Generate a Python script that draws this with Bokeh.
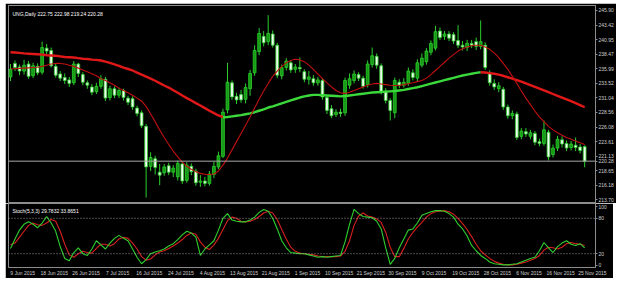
from bokeh.plotting import figure
from bokeh.layouts import column
from bokeh.models import Range1d, FixedTicker, Label, Span, ColumnDataSource
from bokeh.embed import file_html
from bokeh.resources import INLINE

# ---------------- data ----------------
title_main = "UNG,Daily  222.75 222.98 219.24 220.28"
title_stoch = "Stoch(5,3,3) 29.7832 33.8651"

date_labels = ["9 Jun 2015", "18 Jun 2015", "26 Jun 2015", "7 Jul 2015", "16 Jul 2015",
               "24 Jul 2015", "4 Aug 2015", "13 Aug 2015", "21 Aug 2015", "1 Sep 2015",
               "10 Sep 2015", "21 Sep 2015", "30 Sep 2015", "9 Oct 2015", "19 Oct 2015",
               "28 Oct 2015", "6 Nov 2015", "16 Nov 2015", "25 Nov 2015"]
date_label_bars = [0, 7, 14, 21, 28, 35, 42, 49, 56, 63, 70, 77, 84, 91, 98, 105, 112, 119, 126]

price_ticks = [245.90, 243.42, 240.95, 238.47, 235.99, 233.52, 231.04, 228.56,
               226.08, 223.61, 221.13, 218.65, 216.18, 213.70]
stoch_ticks = [0, 20, 80, 100]
stoch_levels = [20, 80]
last_price = 220.28

opens = [234.6, 236.9, 236.3, 235.6, 236.8, 234.8, 236.4, 235.4, 239.5, 239.1,
         236.4, 235.1, 234.5, 234.1, 233.6, 236.8, 235.0, 233.6, 232.9, 232.1,
         233.0, 234.2, 231.1, 232.6, 231.5, 232.3, 231.0, 230.9, 229.3, 228.5,
         226.2, 219.4, 220.7, 218.4, 218.3, 219.5, 218.4, 217.6, 219.8, 217.0,
         219.4, 218.6, 216.7, 216.9, 216.5, 218.0, 219.3, 221.1, 229.0, 233.6,
         231.3, 231.6, 230.8, 232.6, 235.3, 238.9, 241.5, 240.6, 241.9, 240.0,
         234.8, 236.2, 237.0, 235.9, 236.2, 235.5, 234.2, 234.3, 233.6, 234.0,
         231.1, 229.2, 228.2, 228.6, 228.5, 233.2, 234.0, 235.0, 234.4, 233.3,
         236.7, 238.1, 236.5, 232.2, 230.6, 228.5, 233.7, 233.2, 233.5, 235.3,
         234.4, 236.6, 237.2, 238.8, 239.5, 242.4, 241.5, 241.9, 241.8, 240.8,
         240.0, 239.6, 240.3, 240.6, 239.8, 240.0, 235.3, 233.5, 232.6, 232.5,
         229.5, 228.0, 228.3, 224.5, 225.3, 224.5, 225.0, 223.6, 223.3, 225.2,
         221.4, 222.5, 223.9, 223.3, 222.6, 223.0, 222.7, 222.75]
highs = [236.8, 237.4, 236.7, 237.5, 237.3, 237.0, 236.9, 240.6, 240.2, 239.6,
         236.8, 235.6, 235.2, 234.6, 237.3, 237.0, 235.4, 234.0, 233.4, 233.6,
         234.9, 234.6, 233.1, 233.0, 232.8, 232.6, 231.4, 231.3, 229.7, 228.9,
         226.6, 221.8, 221.2, 219.8, 219.8, 220.0, 219.6, 220.4, 220.2, 220.1,
         219.9, 219.0, 217.9, 217.6, 218.6, 220.2, 221.9, 229.2, 237.0, 234.0,
         231.9, 232.4, 233.5, 235.8, 240.0, 242.9, 242.4, 245.1, 242.5, 240.4,
         236.7, 237.8, 237.4, 236.8, 237.9, 235.9, 235.6, 234.9, 234.6, 234.4,
         231.5, 229.8, 229.1, 229.2, 234.5, 235.2, 235.7, 235.4, 234.8, 237.4,
         239.6, 238.6, 236.9, 232.7, 231.0, 234.5, 234.2, 234.4, 236.2, 235.9,
         237.6, 238.6, 239.5, 240.8, 243.3, 243.0, 242.4, 242.4, 242.2, 243.4,
         240.7, 240.9, 240.9, 241.3, 244.2, 240.5, 235.7, 234.2, 233.7, 232.9,
         229.9, 228.9, 228.7, 225.9, 225.9, 225.6, 225.4, 224.1, 227.2, 225.6,
         223.1, 224.6, 224.5, 223.8, 223.7, 224.3, 223.2, 222.98]
lows = [233.9, 235.6, 234.9, 235.0, 234.3, 234.4, 234.9, 235.0, 238.4, 236.2,
        234.5, 233.9, 233.4, 232.9, 233.2, 234.6, 233.2, 232.6, 231.5, 231.7,
        232.6, 230.5, 230.6, 231.0, 231.0, 230.6, 229.8, 229.0, 227.9, 225.9,
        214.1, 218.6, 218.0, 216.2, 217.8, 217.9, 217.6, 217.0, 216.4, 216.6,
        217.9, 216.1, 215.9, 216.0, 216.1, 217.4, 218.9, 220.8, 228.4, 230.7,
        230.0, 230.2, 230.1, 231.4, 234.8, 238.3, 239.8, 240.0, 239.6, 234.4,
        234.2, 235.7, 235.3, 235.3, 235.4, 233.7, 233.3, 233.1, 233.1, 230.7,
        228.3, 227.6, 227.8, 227.8, 228.0, 232.6, 233.5, 233.9, 232.6, 232.8,
        236.2, 236.0, 231.6, 230.1, 227.2, 227.6, 232.7, 232.8, 233.1, 234.0,
        233.9, 236.2, 236.7, 238.3, 239.1, 240.9, 240.9, 240.7, 240.2, 239.5,
        239.1, 239.0, 239.5, 239.2, 239.3, 235.8, 233.1, 232.4, 232.0, 229.0,
        227.5, 227.4, 223.9, 224.0, 224.4, 224.0, 223.0, 222.8, 222.9, 220.4,
        220.9, 222.0, 222.6, 222.0, 222.1, 222.0, 221.6, 219.24]
closes = [235.9, 236.2, 235.6, 236.6, 234.7, 236.5, 235.3, 239.6, 239.0, 236.5,
          234.9, 234.4, 234.0, 233.5, 236.8, 235.2, 233.7, 233.2, 232.0, 233.0,
          234.3, 231.0, 232.6, 231.5, 232.3, 231.1, 230.3, 229.5, 228.4, 226.3,
          219.3, 220.9, 219.2, 217.9, 219.3, 218.4, 219.1, 219.9, 216.9, 219.6,
          218.5, 216.6, 216.9, 216.5, 218.1, 219.4, 221.2, 228.6, 233.7, 231.2,
          230.7, 230.7, 232.8, 235.2, 239.1, 242.0, 240.4, 242.0, 240.0, 234.9,
          236.2, 237.3, 235.8, 236.3, 236.0, 234.2, 234.6, 233.6, 234.1, 231.2,
          228.9, 228.0, 228.6, 228.4, 234.0, 234.3, 235.1, 234.4, 233.0, 236.8,
          238.2, 236.6, 232.0, 230.6, 228.9, 234.0, 233.2, 233.7, 235.6, 234.5,
          237.0, 237.8, 239.0, 240.3, 242.3, 241.3, 241.9, 241.2, 240.7, 240.0,
          239.7, 240.3, 240.0, 239.8, 240.6, 236.2, 233.6, 232.9, 233.1, 229.5,
          228.0, 228.4, 224.3, 225.4, 224.9, 225.1, 223.5, 223.3, 225.6, 221.0,
          222.5, 224.0, 223.2, 222.5, 223.2, 222.6, 222.1, 220.28]

ma_slow = [238.8, 238.75, 238.7, 238.6, 238.55, 238.5, 238.45, 238.4, 238.3, 238.25,
           238.2, 238.1, 238.0, 237.95, 237.9, 237.8, 237.7, 237.65, 237.55, 237.5,
           237.4, 237.2, 237.0, 236.75, 236.5, 236.2, 235.95, 235.7, 235.35, 235.0,
           234.65, 234.3, 233.95, 233.55, 233.15, 232.8, 232.35, 231.9, 231.45, 231.0,
           230.6, 230.15, 229.75, 229.3, 228.85, 228.45, 228.05, 227.75, 227.8, 227.9,
           228.0, 228.1, 228.25, 228.4, 228.6, 228.85, 229.1, 229.4, 229.6, 229.85,
           230.1, 230.35, 230.6, 230.85, 231.1, 231.3, 231.45, 231.55, 231.55, 231.5,
           231.45, 231.4, 231.35, 231.3, 231.35, 231.45, 231.55, 231.65, 231.75, 231.85,
           231.95, 232.0, 232.05, 232.1, 232.15, 232.2, 232.3, 232.4, 232.55, 232.7,
           232.85, 233.05, 233.25, 233.45, 233.65, 233.85, 234.05, 234.25, 234.45, 234.65,
           234.85, 235.0, 235.15, 235.3, 235.4, 235.35, 235.25, 235.15, 235.0, 234.8,
           234.55, 234.3, 234.05, 233.8, 233.5, 233.2, 232.9, 232.6, 232.3, 232.0,
           231.7, 231.4, 231.1, 230.8, 230.5, 230.15, 229.8, 229.45]
ma_fast = [236.0, 236.0, 236.05, 236.1, 236.15, 236.2, 236.25, 236.4, 236.6, 236.8,
           236.9, 236.9, 236.8, 236.6, 236.4, 236.1, 235.8, 235.5, 235.15, 234.8,
           234.3, 234.0, 233.6, 233.2, 232.7, 232.3, 231.9, 231.5, 231.0, 230.5,
           229.6, 228.3, 227.0, 225.6, 224.3, 223.1, 222.0, 221.0, 220.1, 219.4,
           218.9, 218.5, 218.2, 218.05, 218.0, 218.1, 218.6, 219.6, 220.8, 222.2,
           223.6, 225.0, 226.4, 227.8, 229.3, 230.8, 232.2, 233.5, 234.7, 235.6,
           236.4, 237.0, 237.4, 237.6, 237.5, 237.2, 236.6, 235.9, 235.1, 234.3,
           233.6, 232.9, 232.3, 231.9, 231.8, 232.0, 232.3, 232.6, 232.9, 233.2,
           233.4, 233.5, 233.4, 233.3, 233.2, 233.15, 233.2, 233.3, 233.45, 233.6,
           233.8, 234.0, 234.4, 235.0, 235.7, 236.4, 237.1, 237.8, 238.4, 239.0,
           239.4, 239.7, 239.9, 240.0, 240.0, 239.7, 239.3, 238.7, 237.9, 236.9,
           235.9, 234.7, 233.5, 232.2, 231.0, 229.9, 228.8, 227.8, 227.0, 226.2,
           225.6, 225.1, 224.7, 224.3, 224.0, 223.7, 223.4, 223.1]

stoch_k = [29, 45, 60, 70, 74, 70, 64, 72, 83, 72,
           58, 32, 12, 8, 22, 30, 20, 17, 28, 42,
           35, 28, 38, 46, 51, 46, 42, 28, 14, 3,
           10, 20, 23, 25, 28, 33, 37, 44, 52, 58,
           55, 48, 17, 28, 35, 42, 60, 80, 88, 77,
           75, 74, 74, 77, 82, 90, 95, 92, 80, 62,
           42, 30, 22, 21, 20, 20, 18, 16, 14, 15,
           14, 15, 16, 17, 40, 70, 95, 88, 83, 82,
           81, 75, 62, 30, 2, 12, 30, 45, 60, 62,
           72, 85, 88, 91, 93, 93, 92, 88, 82, 70,
           62, 50, 34, 25, 17, 12, 6, 3, 2, 1,
           1, 2, 3, 6, 9, 12, 14, 25, 39, 30,
           22, 32, 38, 42, 36, 34, 37, 29.78]
stoch_d = [35, 38, 48, 58, 68, 72, 69, 68, 72, 78,
           75, 58, 36, 18, 14, 20, 24, 22, 21, 29,
           36, 36, 33, 37, 45, 48, 46, 38, 28, 15,
           9, 11, 18, 23, 25, 29, 33, 38, 44, 51,
           55, 53, 40, 31, 27, 35, 46, 61, 76, 82,
           80, 75, 74, 75, 78, 83, 89, 92, 89, 78,
           61, 45, 31, 24, 21, 20, 19, 18, 16, 15,
           15, 15, 15, 16, 24, 42, 68, 84, 89, 84,
           82, 79, 73, 56, 31, 15, 15, 29, 45, 56,
           65, 73, 82, 88, 91, 92, 93, 91, 87, 80,
           71, 61, 49, 36, 25, 18, 12, 7, 4, 2,
           1, 1, 2, 4, 6, 9, 12, 17, 26, 31,
           30, 28, 31, 37, 39, 37, 36, 33.87]

# ---------------- styling constants ----------------
FONT = "Liberation Sans"
GRID_GREY = "#8c8c8c"
LABEL_GREY = "#d0d0d0"
CANDLE_LINE = "#2ccf2c"
BULL_FILL = "#169a16"
BEAR_FILL = "#eefcee"
DATE_LABEL_SHIFT = 2.7   # bars: MT4 draws the date text starting at its bar

idx = list(range(len(closes)))
bull = [i for i in idx if closes[i] >= opens[i]]
bear = [i for i in idx if closes[i] < opens[i]]

wick_src = ColumnDataSource(dict(x=idx, lo=lows, hi=highs))
bull_src = ColumnDataSource(dict(x=bull,
                                 top=[closes[i] for i in bull],
                                 bottom=[opens[i] for i in bull]))
bear_src = ColumnDataSource(dict(x=bear,
                                 top=[opens[i] for i in bear],
                                 bottom=[closes[i] for i in bear]))

x_range = Range1d(-0.44, 129.4)

# ---------------- main price panel ----------------
p = figure(frame_width=587, frame_height=197, x_range=x_range,
           y_range=Range1d(213.25, 246.75), output_backend="svg",
           toolbar_location=None, y_axis_location="right", x_axis_location=None,
           min_border_left=3, min_border_right=18, min_border_top=2, min_border_bottom=1,
           background_fill_color="black", border_fill_color="black",
           outline_line_color=GRID_GREY, outline_line_width=1)
p.margin = (3, 0, 0, 5)
p.grid.visible = False
yax = p.yaxis[0]
yax.ticker = FixedTicker(ticks=price_ticks + [last_price])
overrides = {t: f"{t:.2f}" for t in price_ticks}
overrides[last_price] = f"{last_price:.2f}"
yax.major_label_overrides = overrides
yax.major_label_text_font = FONT
yax.major_label_text_font_size = "5px"
yax.major_label_text_color = LABEL_GREY
yax.major_label_standoff = 1
yax.major_tick_out = 2
yax.major_tick_in = 0
yax.minor_tick_out = 0
yax.minor_tick_in = 0
yax.major_tick_line_color = GRID_GREY
yax.axis_line_color = GRID_GREY

p.add_layout(Span(location=last_price, dimension="width", line_color="#a8a8a8", line_width=1))

p.segment(x0="x", y0="lo", x1="x", y1="hi", source=wick_src, line_color=CANDLE_LINE, line_width=1)
p.vbar(x="x", top="top", bottom="bottom", width=0.62, source=bull_src,
       fill_color=BULL_FILL, line_color=CANDLE_LINE, line_width=0.8)
p.vbar(x="x", top="top", bottom="bottom", width=0.62, source=bear_src,
       fill_color=BEAR_FILL, line_color=CANDLE_LINE, line_width=0.8)

# slow MA coloured by direction
p.line(idx[0:48], ma_slow[0:48], line_color="#e01818", line_width=2.4)
p.line(idx[47:105], ma_slow[47:105], line_color="#3ad83a", line_width=2.4)
p.line(idx[104:], ma_slow[104:], line_color="#e01818", line_width=2.4)
# fast MA
p.line(idx, ma_fast, line_color="#c01010", line_width=1.1)

p.add_layout(Label(x=4, y=189, x_units="screen", y_units="screen", text=title_main,
                   text_font=FONT, text_font_size="5px", text_color="white",
                   text_baseline="middle"))

# ---------------- stochastic panel ----------------
s = figure(frame_width=587, frame_height=64, x_range=x_range,
           y_range=Range1d(-3.4, 105.1), output_backend="svg",
           toolbar_location=None, y_axis_location="right",
           min_border_left=3, min_border_right=18, min_border_top=0, min_border_bottom=10,
           background_fill_color="black", border_fill_color="black",
           outline_line_color=GRID_GREY, outline_line_width=1)
s.margin = (0, 0, 0, 5)
s.grid.visible = False
sy = s.yaxis[0]
sy.ticker = FixedTicker(ticks=stoch_ticks)
sy.major_label_text_font = FONT
sy.major_label_text_font_size = "5px"
sy.major_label_text_color = LABEL_GREY
sy.major_label_standoff = 1
sy.major_tick_out = 2
sy.major_tick_in = 0
sy.minor_tick_out = 0
sy.minor_tick_in = 0
sy.major_tick_line_color = GRID_GREY
sy.axis_line_color = GRID_GREY

date_pos = [b + DATE_LABEL_SHIFT for b in date_label_bars]
sx = s.xaxis[0]
sx.ticker = FixedTicker(ticks=date_pos)
sx.major_label_overrides = {pos: l for pos, l in zip(date_pos, date_labels)}
sx.major_label_text_font = FONT
sx.major_label_text_font_size = "5px"
sx.major_label_text_color = LABEL_GREY
sx.major_label_standoff = 2
sx.major_tick_out = 0
sx.major_tick_in = 0
sx.minor_tick_out = 0
sx.minor_tick_in = 0
sx.axis_line_color = GRID_GREY

for lvl in stoch_levels:
    s.add_layout(Span(location=lvl, dimension="width", line_color="#bdbdbd",
                      line_width=0.8, line_dash="1 2"))

s.line(idx, stoch_d, line_color="#d82020", line_width=1.1)
s.line(idx, stoch_k, line_color="#2fd02f", line_width=1.1)

s.add_layout(Label(x=4, y=57, x_units="screen", y_units="screen", text=title_stoch,
                   text_font=FONT, text_font_size="5px", text_color="white",
                   text_baseline="middle"))

layout = column(p, s, spacing=0)
open("out.html", "w").write(file_html(layout, INLINE))
